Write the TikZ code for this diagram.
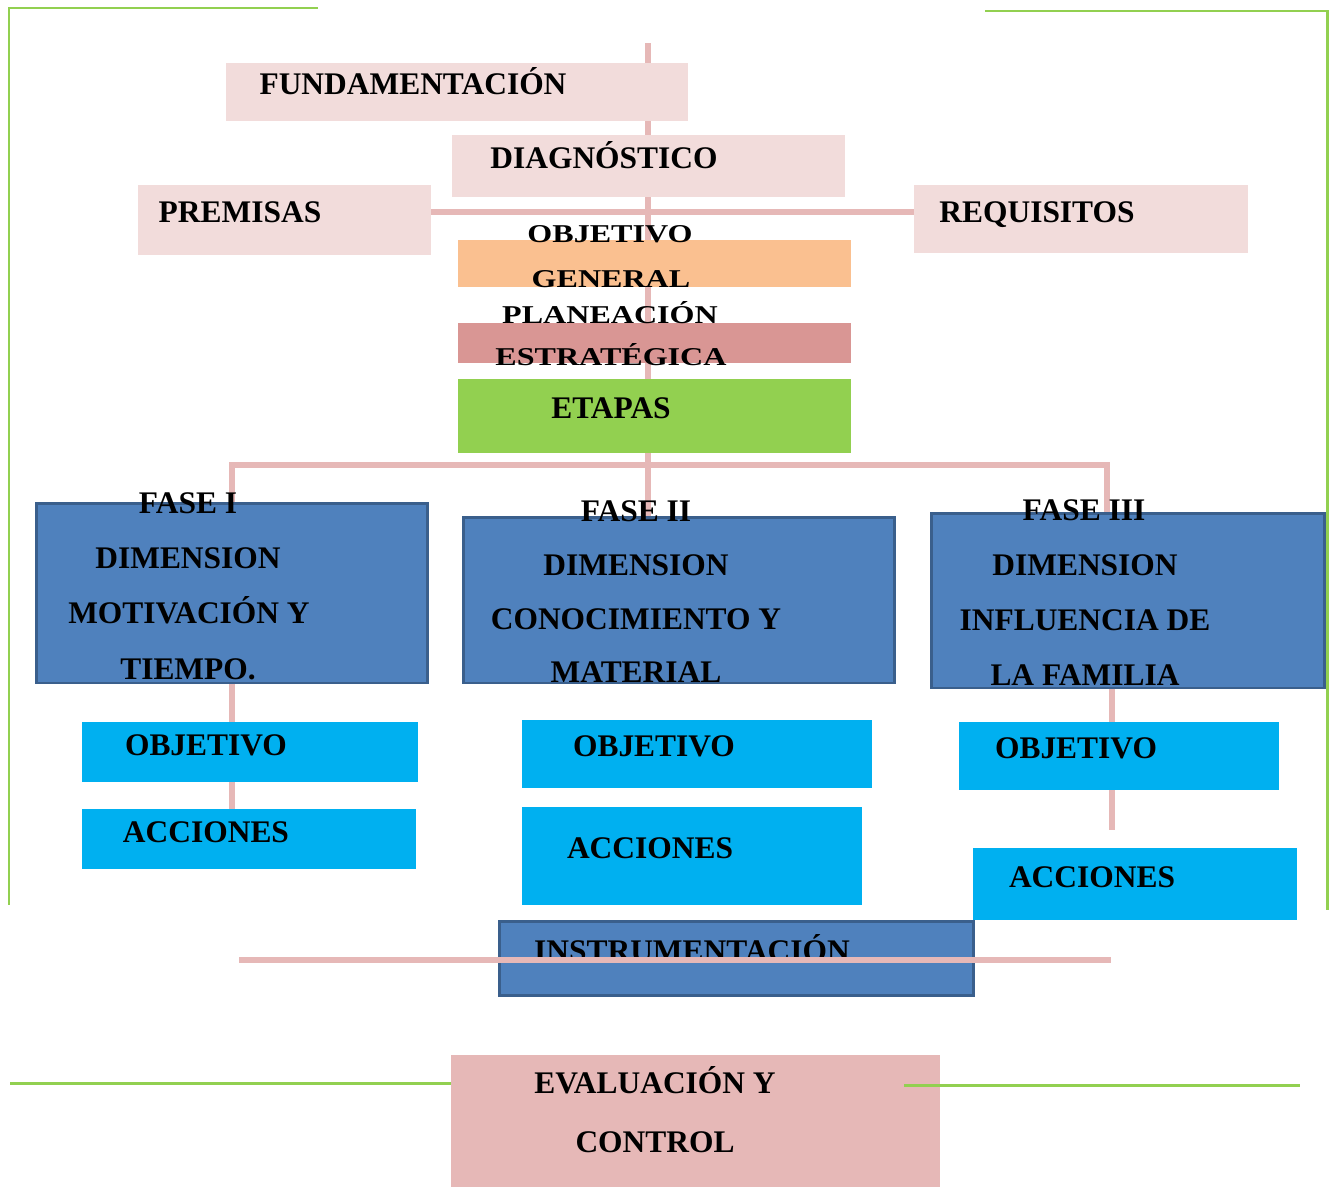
\documentclass[tikz,border=0pt]{standalone}
\usepackage{fontspec}
\setmainfont{Liberation Serif}
\newfontfamily\widefont{Liberation Serif}[FakeStretch=1.25]
\usetikzlibrary{calc}

\definecolor{rosa}{HTML}{F2DCDB}
\definecolor{naranja}{HTML}{FAC090}
\definecolor{granate}{HTML}{D99694}
\definecolor{verde}{HTML}{92D050}
\definecolor{azul}{HTML}{4F81BD}
\definecolor{azulborde}{HTML}{3A5F8C}
\definecolor{celeste}{HTML}{00B0F0}
\definecolor{rosalinea}{HTML}{E6B8B7}

\pgfdeclarelayer{fondo}
\pgfsetlayers{fondo,main}

\begin{document}
\begin{tikzpicture}[x=0.02cm, y=-0.02cm,
    caja/.style={rectangle, inner sep=0pt},
    fase/.style={caja, fill=azul, draw=azulborde, line width=1.7pt},
    txt/.style={inner sep=0pt, anchor=base, font=\bfseries\fontsize{17.9}{20}\selectfont},
    wtxt/.style={inner sep=0pt, anchor=base, font=\widefont\bfseries\fontsize{14.6}{16}\selectfont},
    linea/.style={draw=rosalinea, line width=3.4pt},
    marco/.style={draw=verde, line width=1.7pt}]

  \useasboundingbox (0,0) rectangle (1331,1187);

  % green frame
  \draw[marco] (318,8) -- (9,8) -- (9,905);
  \draw[marco] (985,11) -- (1327,11) -- (1327,910);

  % top boxes
  \node[caja, fill=rosa, minimum width=9.24cm, minimum height=1.16cm] (fund) at (457,92) {};
  \node[caja, fill=rosa, minimum width=7.86cm, minimum height=1.24cm] (diag) at (648.5,166) {};
  \node[caja, fill=rosa, minimum width=5.86cm, minimum height=1.40cm] (prem) at (284.5,220) {};
  \node[caja, fill=rosa, minimum width=6.68cm, minimum height=1.36cm] (req) at (1081,219) {};
  \node[caja, fill=naranja, minimum width=7.86cm, minimum height=0.94cm] (obgen) at (654.5,263.5) {};
  \node[caja, fill=granate, minimum width=7.86cm, minimum height=0.80cm] (plan) at (654.5,343) {};
  \node[caja, fill=verde, minimum width=7.86cm, minimum height=1.48cm] (etapas) at (654.5,416) {};

  % phase boxes
  \node[fase, minimum width=7.84cm, minimum height=3.60cm] (f1) at (232,593) {};
  \node[fase, minimum width=8.64cm, minimum height=3.32cm] (f2) at (679,600) {};
  \node[fase, minimum width=7.88cm, minimum height=3.50cm] (f3) at (1128,600.5) {};

  % objetivo / acciones
  \node[caja, fill=celeste, minimum width=6.72cm, minimum height=1.20cm] (obj1) at (250,752) {};
  \node[caja, fill=celeste, minimum width=6.68cm, minimum height=1.20cm] (acc1) at (249,839) {};
  \node[caja, fill=celeste, minimum width=7.00cm, minimum height=1.36cm] (obj2) at (697,754) {};
  \node[caja, fill=celeste, minimum width=6.80cm, minimum height=1.96cm] (acc2) at (692,856) {};
  \node[caja, fill=celeste, minimum width=6.40cm, minimum height=1.36cm] (obj3) at (1119,756) {};
  \node[caja, fill=celeste, minimum width=6.48cm, minimum height=1.44cm] (acc3) at (1135,884) {};

  % instrumentacion and evaluacion
  \node[fase, minimum width=9.50cm, minimum height=1.48cm] (instr) at (736.5,958) {};
  \node[caja, fill=rosalinea, minimum width=9.78cm, minimum height=2.64cm] (eval) at (695.5,1121) {};

  % connectors behind the boxes
  \begin{pgfonlayer}{fondo}
    \coordinate (arriba) at (648,43);
    \coordinate (cruce) at (648,212);
    \coordinate (rama) at (1107,465);
    \coordinate (fin3) at (1112,830);
    \draw[linea] (arriba) -- (arriba |- f2.north);
    \draw[linea] (prem.east |- cruce) -- (req.west |- cruce);
    \draw[linea] (f1.north) |- (rama) -- (rama |- f3.north);
    \draw[linea] (f1.south) -- (f1.south |- acc1.north);
    \draw[linea] (fin3 |- f3.south) -- (fin3);
  \end{pgfonlayer}

  % texts
  \node[txt] (t-fund) at (413,94) {FUNDAMENTACIÓN};
  \node[txt] (t-diag) at (604,168) {DIAGNÓSTICO};
  \node[txt] (t-prem) at (240,222) {PREMISAS};
  \node[txt] (t-req) at (1037,222) {REQUISITOS};
  \node[wtxt] (t-obgen1) at (610,242) {OBJETIVO};
  \node[wtxt] (t-obgen2) at (611,287) {GENERAL};
  \node[wtxt] (t-plan1) at (610,323) {PLANEACIÓN};
  \node[wtxt] (t-plan2) at (611,365) {ESTRATÉGICA};
  \node[txt] (t-etapas) at (611,418) {ETAPAS};

  \node[txt] (t-f1a) at (188,513) {FASE I};
  \node[txt] (t-f1b) at (188,568) {DIMENSION};
  \node[txt] (t-f1c) at (189,623) {MOTIVACIÓN Y};
  \node[txt] (t-f1d) at (188,679) {TIEMPO.};

  \node[txt] (t-f2a) at (636,521) {FASE II};
  \node[txt] (t-f2b) at (636,575) {DIMENSION};
  \node[txt] (t-f2c) at (636,629) {CONOCIMIENTO Y};
  \node[txt] (t-f2d) at (636,682) {MATERIAL};

  \node[txt] (t-f3a) at (1084,520) {FASE III};
  \node[txt] (t-f3b) at (1085,575) {DIMENSION};
  \node[txt] (t-f3c) at (1085,630) {INFLUENCIA DE};
  \node[txt] (t-f3d) at (1085,685) {LA FAMILIA};

  \node[txt] (t-obj1) at (206,755) {OBJETIVO};
  \node[txt] (t-acc1) at (206,842) {ACCIONES};
  \node[txt] (t-obj2) at (654,756) {OBJETIVO};
  \node[txt] (t-acc2) at (650,858) {ACCIONES};
  \node[txt] (t-obj3) at (1076,758) {OBJETIVO};
  \node[txt] (t-acc3) at (1092,887) {ACCIONES};

  \node[txt] (t-instr) at (692,961) {INSTRUMENTACIÓN};
  \node[txt] (t-eval1) at (655,1093) {EVALUACIÓN Y};
  \node[txt] (t-eval2) at (655,1152) {CONTROL};

  % line across instrumentacion
  \coordinate (li) at (239,960);
  \coordinate (ld) at (1111,960);
  \draw[linea] (li) -- (ld);

  % green lines at the bottom
  \draw[marco] (10,1083) -- (eval.west |- 0,1083);
  \draw[marco] (904,1085) -- (1300,1085);

\end{tikzpicture}
\end{document}
